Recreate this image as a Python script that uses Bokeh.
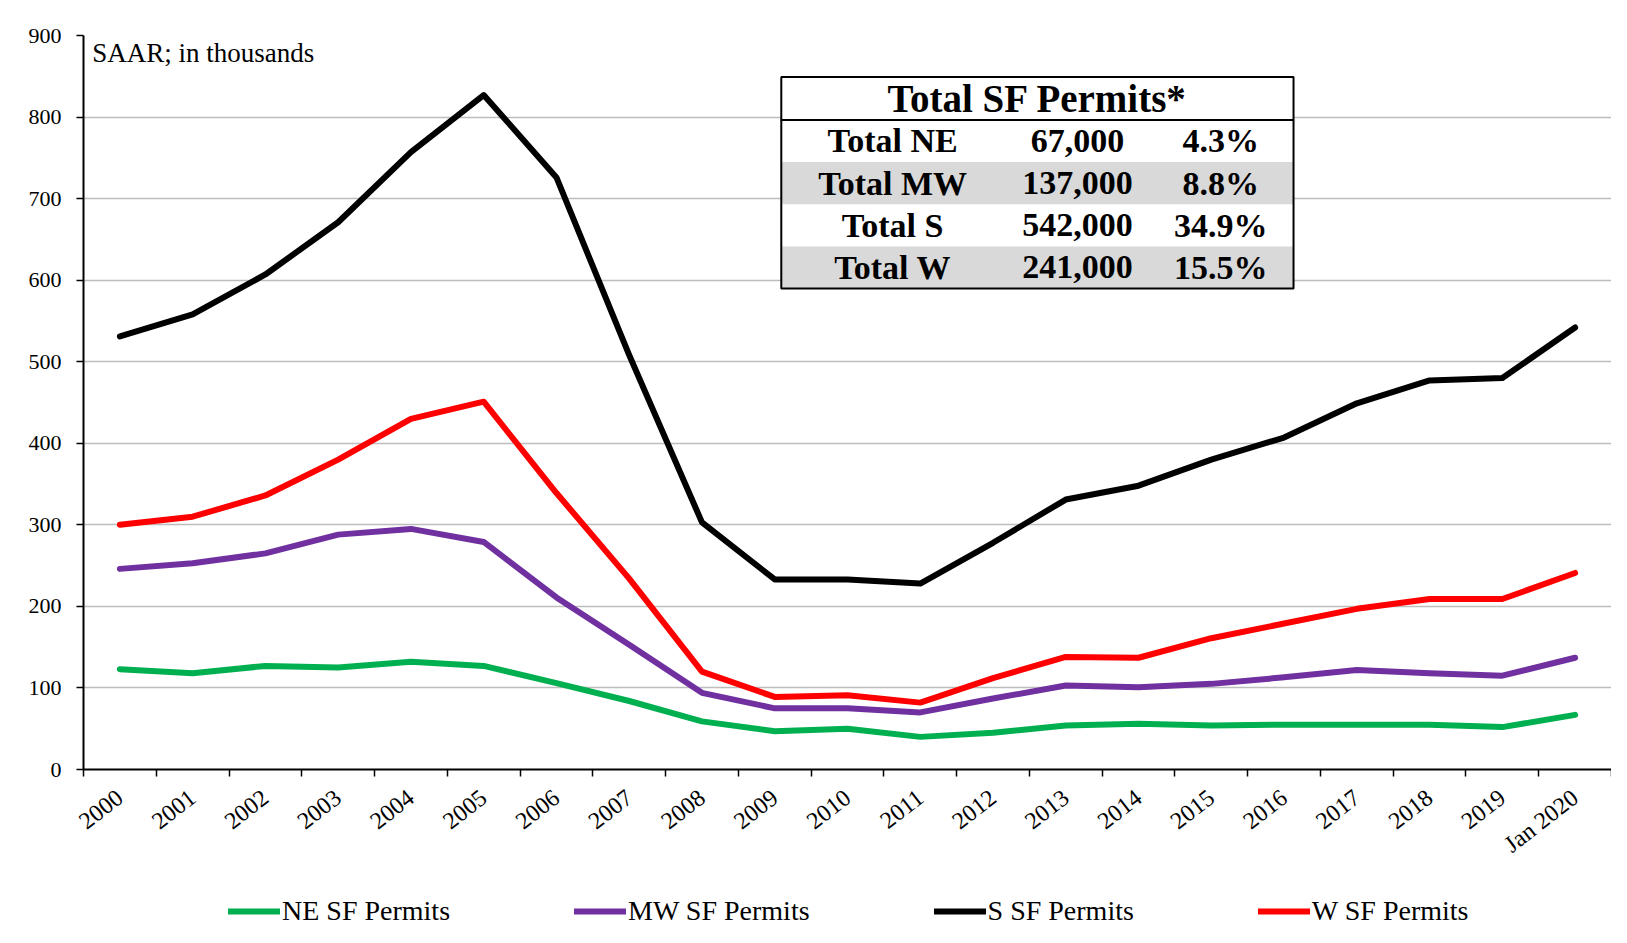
from bokeh.plotting import figure
from bokeh.layouts import column
from bokeh.models import (Range1d, FixedTicker, Legend, LegendItem,
                          BoxAnnotation, Label, LabelSet, ColumnDataSource)
from bokeh.embed import file_html
from bokeh.resources import INLINE

# ---------------- data ----------------
categories = ["2000", "2001", "2002", "2003", "2004", "2005", "2006", "2007",
              "2008", "2009", "2010", "2011", "2012", "2013", "2014", "2015",
              "2016", "2017", "2018", "2019", "Jan 2020"]
ne_permits = [123, 118, 127, 125, 132, 127, 106, 84, 59, 47, 50, 40, 45, 54,
              56, 54, 55, 55, 55, 52, 67]
mw_permits = [246, 253, 265, 288, 295, 279, 211, 153, 94, 75, 75, 70, 87, 103,
              101, 105, 113, 122, 118, 115, 137]
s_permits = [531, 558, 607, 671, 757, 827, 726, 508, 303, 233, 233, 228, 278,
             331, 348, 380, 407, 449, 477, 480, 542]
w_permits = [300, 310, 336, 380, 430, 451, 339, 234, 120, 89, 91, 82, 112, 138,
             137, 161, 179, 197, 209, 209, 241]
series_names = ["NE SF Permits", "MW SF Permits", "S SF Permits", "W SF Permits"]
series_colors = ["#00b050", "#7030a0", "#000000", "#ff0000"]

table_title = "Total SF Permits*"
table_regions = ["Total NE", "Total MW", "Total S", "Total W"]
table_totals = ["67,000", "137,000", "542,000", "241,000"]
table_shares = ["4.3%", "8.8%", "34.9%", "15.5%"]

y_ticks = [0, 100, 200, 300, 400, 500, 600, 700, 800, 900]
unit_note = "SAAR; in thousands"

FONT = "Liberation Serif"
W = 1611

# ---------------- main figure ----------------
n = len(categories)
xs = list(range(n))
all_series = [ne_permits, mw_permits, s_permits, w_permits]

p = figure(width=W, height=870, output_backend="svg", toolbar_location=None,
           x_range=Range1d(-0.5, n - 0.5), y_range=Range1d(0, 900),
           min_border_left=83, min_border_right=0, min_border_top=35,
           min_border_bottom=94)
p.outline_line_color = None
p.background_fill_color = "white"
p.border_fill_color = "white"

# x axis: labels at category centres, tick marks at category boundaries
p.xaxis.ticker = FixedTicker(ticks=xs, minor_ticks=[i - 0.5 for i in range(n + 1)])
p.xaxis.major_label_overrides = {i: c for i, c in enumerate(categories)}
p.xaxis.major_tick_out = 0
p.xaxis.major_tick_in = 0
p.xaxis.minor_tick_out = 7
p.xaxis.minor_tick_in = 0
p.xaxis.minor_tick_line_color = "black"
p.xaxis.minor_tick_line_width = 1.5
p.xaxis.axis_line_color = "black"
p.xaxis.axis_line_width = 2
p.xaxis.major_label_orientation = 0.66
p.xaxis.major_label_standoff = 18
p.xaxis.major_label_text_font = FONT
p.xaxis.major_label_text_font_size = "24px"
p.xaxis.major_label_text_color = "black"

p.yaxis.ticker = FixedTicker(ticks=y_ticks)
p.yaxis.major_tick_out = 7
p.yaxis.major_tick_in = 0
p.yaxis.minor_tick_out = 0
p.yaxis.minor_tick_in = 0
p.yaxis.major_tick_line_width = 1.5
p.yaxis.axis_line_color = "black"
p.yaxis.axis_line_width = 2
p.yaxis.major_label_standoff = 15
p.yaxis.major_label_text_font = FONT
p.yaxis.major_label_text_font_size = "22px"
p.yaxis.major_label_text_color = "black"

p.xgrid.grid_line_color = None
p.ygrid.ticker = FixedTicker(ticks=y_ticks)
p.ygrid.grid_line_color = "#bdbdbd"
p.ygrid.grid_line_width = 1.5

# ---------------- lines ----------------
for vals, col in zip(all_series, series_colors):
    p.line(xs, vals, line_width=6, line_color=col,
           line_join="round", line_cap="round")

# ---------------- unit note ----------------
p.add_layout(Label(x=-0.38, y=897, text=unit_note, text_baseline="top",
                   text_align="left", text_font=FONT, text_font_size="27px",
                   text_color="black"))

# ---------------- summary table ----------------
TB_L, TB_R = 9.09, 16.13
TB_TOP, TB_TITLE_BOT = 849.0, 796.5
ROW_H = 51.7

p.add_layout(BoxAnnotation(left=TB_L, right=TB_R, bottom=TB_TITLE_BOT - 4 * ROW_H,
                           top=TB_TOP, fill_color="white", fill_alpha=1,
                           line_color=None))
row_centers = []
for i in range(len(table_regions)):
    top = TB_TITLE_BOT - i * ROW_H
    bot = top - ROW_H
    row_centers.append((top + bot) / 2)
    if i % 2 == 1:
        p.add_layout(BoxAnnotation(left=TB_L, right=TB_R, bottom=bot, top=top,
                                   fill_color="#d9d9d9", fill_alpha=1,
                                   line_color=None))
p.add_layout(BoxAnnotation(left=TB_L, right=TB_R, bottom=TB_TITLE_BOT, top=TB_TOP,
                           fill_alpha=0, line_color="black", line_alpha=1,
                           line_width=2))
p.add_layout(BoxAnnotation(left=TB_L, right=TB_R, bottom=TB_TITLE_BOT - 4 * ROW_H,
                           top=TB_TITLE_BOT, fill_alpha=0, line_color="black",
                           line_alpha=1, line_width=2))

p.add_layout(Label(x=12.61, y=(TB_TOP + TB_TITLE_BOT) / 2, text=table_title,
                   text_align="center", text_baseline="middle", text_font=FONT,
                   text_font_style="bold", text_font_size="39px",
                   text_color="black"))

col_x = [10.62, 13.16, 15.13]
for cx, col_texts in zip(col_x, [table_regions, table_totals, table_shares]):
    src = ColumnDataSource(dict(x=[cx] * len(col_texts), y=row_centers,
                                text=col_texts))
    p.add_layout(LabelSet(x="x", y="y", text="text", source=src,
                          text_align="center", text_baseline="middle",
                          text_font=FONT, text_font_style="bold",
                          text_font_size="34px", text_color="black"))

# ---------------- legend strip ----------------
# the series are drawn again here only as legend keys; the strip's y range
# lies outside the data, so only the legend is visible
lf = figure(width=W, height=60, output_backend="svg", toolbar_location=None,
            x_range=Range1d(-0.5, n - 0.5), y_range=Range1d(-20000, -19999),
            x_axis_location=None, y_axis_location=None,
            min_border_left=0, min_border_right=0, min_border_top=0,
            min_border_bottom=0)
lf.outline_line_color = None
lf.xgrid.grid_line_color = None
lf.ygrid.grid_line_color = None
lf.background_fill_color = "white"
lf.border_fill_color = "white"

key_renderers = [lf.line(xs, vals, line_width=6, line_color=col, line_cap="round")
                 for vals, col in zip(all_series, series_colors)]
legend = Legend(items=[LegendItem(label=nm, renderers=[r])
                       for nm, r in zip(series_names, key_renderers)],
                orientation="horizontal", location=(145, 3),
                glyph_width=52, glyph_height=20, label_standoff=2, spacing=124,
                padding=0, margin=0, border_line_color=None,
                background_fill_alpha=0,
                label_text_font=FONT, label_text_font_size="28px",
                label_text_color="black")
lf.add_layout(legend)

layout = column(p, lf, spacing=0)
open("out.html", "w").write(file_html(layout, INLINE))
